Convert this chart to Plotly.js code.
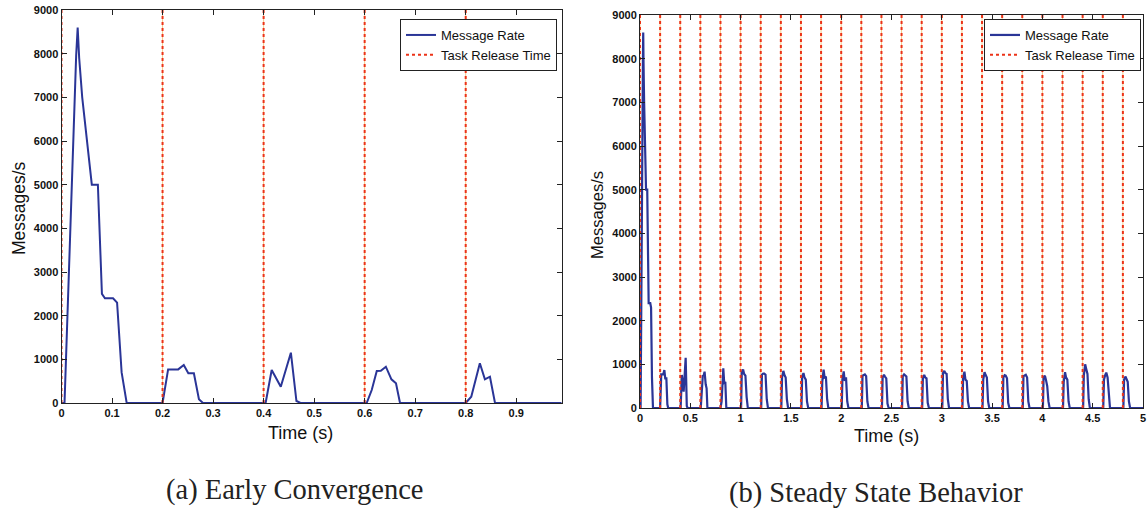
<!DOCTYPE html>
<html>
<head>
<meta charset="utf-8">
<script src="https://cdn.plot.ly/plotly-3.0.1.min.js"></script>
<style>
  html, body { margin: 0; padding: 0; background: #ffffff; }
  #chart { width: 1147px; height: 510px; }
</style>
</head>
<body>
<div id="chart"></div>
<script>
// ---------------- DATA ----------------
// (a) Early Convergence : message rate over the first second
const earlyTime = [0, 0.006, 0.029, 0.032, 0.035, 0.041, 0.060, 0.072, 0.080, 0.086, 0.102, 0.110, 0.119, 0.129,
  0.200, 0.211, 0.231, 0.242, 0.251, 0.262, 0.272, 0.280,
  0.404, 0.416, 0.434, 0.454, 0.465, 0.473,
  0.604, 0.614, 0.624, 0.632, 0.642, 0.653, 0.662, 0.670,
  0.800, 0.811, 0.828, 0.838, 0.848, 0.858, 0.990];
const earlyRate = [0, 0, 7950, 8600, 7900, 7000, 5000, 5000, 2500, 2400, 2400, 2300, 700, 0,
  0, 770, 770, 870, 680, 680, 85, 0,
  0, 756, 373, 1152, 46, 0,
  0, 298, 733, 740, 831, 543, 451, 0,
  0, 144, 909, 543, 602, 0, 0];

// (b) Steady State Behavior : message rate after the first second (the first second is earlyTime/earlyRate)
const steadyTime = [
  1.005, 1.012, 1.025, 1.035, 1.048, 1.060, 1.072,
  1.205, 1.212, 1.225, 1.235, 1.248, 1.260, 1.272,
  1.405, 1.412, 1.425, 1.435, 1.448, 1.460, 1.472,
  1.605, 1.612, 1.625, 1.635, 1.648, 1.660, 1.672,
  1.805, 1.812, 1.825, 1.835, 1.848, 1.860, 1.872,
  2.005, 2.012, 2.025, 2.035, 2.048, 2.060, 2.072,
  2.205, 2.212, 2.225, 2.235, 2.248, 2.260, 2.272,
  2.405, 2.412, 2.425, 2.435, 2.448, 2.460, 2.472,
  2.605, 2.612, 2.625, 2.635, 2.648, 2.660, 2.672,
  2.805, 2.812, 2.825, 2.835, 2.848, 2.860, 2.872,
  3.005, 3.012, 3.025, 3.035, 3.048, 3.060, 3.072,
  3.205, 3.212, 3.225, 3.235, 3.248, 3.260, 3.272,
  3.405, 3.412, 3.425, 3.435, 3.448, 3.460, 3.472,
  3.605, 3.612, 3.625, 3.635, 3.648, 3.660, 3.672,
  3.805, 3.812, 3.825, 3.835, 3.848, 3.860, 3.872,
  4.005, 4.012, 4.025, 4.035, 4.048, 4.060, 4.072,
  4.205, 4.212, 4.225, 4.235, 4.248, 4.260, 4.272,
  4.405, 4.412, 4.425, 4.435, 4.448, 4.460, 4.472,
  4.605, 4.612, 4.625, 4.635, 4.648, 4.660, 4.672,
  4.805, 4.812, 4.825, 4.835, 4.848, 4.860, 4.872,
  5.000];
const steadyRate = [
  0, 820, 880, 780, 740, 250, 0,
  0, 760, 790, 790, 760, 200, 0,
  0, 700, 850, 760, 700, 200, 0,
  0, 720, 800, 700, 650, 150, 0,
  0, 600, 880, 700, 720, 200, 0,
  0, 650, 840, 620, 700, 150, 0,
  0, 740, 770, 770, 730, 150, 0,
  0, 700, 760, 720, 680, 100, 0,
  0, 730, 770, 740, 720, 150, 0,
  0, 690, 760, 700, 680, 120, 0,
  0, 800, 850, 800, 780, 200, 0,
  0, 700, 830, 650, 620, 150, 0,
  0, 650, 820, 760, 700, 150, 0,
  0, 700, 750, 740, 680, 120, 0,
  0, 730, 760, 760, 700, 150, 0,
  0, 700, 740, 650, 500, 150, 0,
  0, 600, 820, 700, 650, 150, 0,
  0, 750, 1000, 900, 780, 200, 0,
  0, 650, 760, 810, 700, 200, 0,
  0, 650, 720, 680, 600, 150, 0,
  0];

const earlyRelease = [0, 0.2, 0.4, 0.6, 0.8];
const steadyRelease = [0, 0.2, 0.4, 0.6, 0.8, 1.0, 1.2, 1.4, 1.6, 1.8, 2.0, 2.2, 2.4, 2.6, 2.8,
  3.0, 3.2, 3.4, 3.6, 3.8, 4.0, 4.2, 4.4, 4.6, 4.8];
const rateTop = 9000;

const yTicks = [0, 1000, 2000, 3000, 4000, 5000, 6000, 7000, 8000, 9000];
const earlyXTicks = [0, 0.1, 0.2, 0.3, 0.4, 0.5, 0.6, 0.7, 0.8, 0.9];
const steadyXTicks = [0, 0.5, 1, 1.5, 2, 2.5, 3, 3.5, 4, 4.5, 5];

// ---------------- BUILD ----------------
function releaseLines(times) {
  const xs = [], ys = [];
  times.forEach(t => { xs.push(t, t, null); ys.push(0, rateTop, null); });
  return { xs, ys };
}
const relA = releaseLines(earlyRelease);
const relB = releaseLines(steadyRelease);

const W = 1147, H = 510;
const px = v => v / W, py = v => 1 - v / H;

const blue = '#2a3597';
const red = '#ec3318';
const glow = '#f6c98a';

const traces = [
  { x: relA.xs, y: relA.ys, type: 'scatter', mode: 'lines', showlegend: false, hoverinfo: 'skip',
    line: { color: glow, width: 1 }, xaxis: 'x', yaxis: 'y' },
  { x: relB.xs, y: relB.ys, type: 'scatter', mode: 'lines', showlegend: false, hoverinfo: 'skip',
    line: { color: glow, width: 1 }, xaxis: 'x2', yaxis: 'y2' },
  { x: earlyTime, y: earlyRate, type: 'scatter', mode: 'lines', name: 'Message Rate',
    line: { color: blue, width: 2 }, xaxis: 'x', yaxis: 'y', legend: 'legend' },
  { x: relA.xs, y: relA.ys, type: 'scatter', mode: 'lines', name: 'Task Release Time',
    line: { color: red, width: 2, dash: 'dot' }, xaxis: 'x', yaxis: 'y', legend: 'legend' },
  { x: earlyTime.concat(steadyTime), y: earlyRate.concat(steadyRate), type: 'scatter', mode: 'lines',
    name: 'Message Rate', line: { color: blue, width: 2.2 }, xaxis: 'x2', yaxis: 'y2', legend: 'legend2' },
  { x: relB.xs, y: relB.ys, type: 'scatter', mode: 'lines', name: 'Task Release Time',
    line: { color: red, width: 2, dash: 'dot' }, xaxis: 'x2', yaxis: 'y2', legend: 'legend2' }
];

const tickFont = { family: 'Liberation Sans, Arial, sans-serif', size: 11, color: '#111', weight: 'bold' };
const axisBase = {
  showline: true, linecolor: '#222', linewidth: 1, mirror: 'ticks',
  ticks: 'inside', ticklen: 5, tickcolor: '#222', tickwidth: 1,
  showgrid: false, zeroline: false, tickfont: tickFont, fixedrange: true
};

const legendBase = {
  bgcolor: '#ffffff', bordercolor: '#222', borderwidth: 1,
  font: { family: 'Liberation Sans, Arial, sans-serif', size: 13, color: '#111' },
  xanchor: 'right', yanchor: 'top', tracegroupgap: 0, itemwidth: 30
};

const titleFont = { family: 'Liberation Sans, Arial, sans-serif', size: 18, color: '#111' };
const captionFont = { family: 'Liberation Serif, Times New Roman, serif', size: 28.5, color: '#222' };

const layout = {
  width: W, height: H,
  margin: { l: 0, r: 0, t: 0, b: 0 },
  paper_bgcolor: '#ffffff', plot_bgcolor: '#ffffff',
  showlegend: true,
  xaxis: Object.assign({}, axisBase, { domain: [px(61.5), px(561.7)], range: [0, 0.99],
    tickvals: earlyXTicks, ticktext: earlyXTicks.map(String), anchor: 'y' }),
  yaxis: Object.assign({}, axisBase, { domain: [py(403), py(10)], range: [0, rateTop],
    tickvals: yTicks, ticktext: yTicks.map(String), anchor: 'x' }),
  xaxis2: Object.assign({}, axisBase, { domain: [px(640), px(1143)], range: [0, 5],
    tickvals: steadyXTicks, ticktext: steadyXTicks.map(String), anchor: 'y2' }),
  yaxis2: Object.assign({}, axisBase, { domain: [py(408), py(15)], range: [0, rateTop],
    tickvals: yTicks, ticktext: yTicks.map(String), anchor: 'x2' }),
  legend: Object.assign({}, legendBase, { x: px(557), y: py(19) }),
  legend2: Object.assign({}, legendBase, { x: px(1141), y: py(19) }),
  annotations: [
    { text: 'Messages/s', xref: 'paper', yref: 'paper', x: px(19), y: py(208), textangle: -90,
      showarrow: false, font: Object.assign({}, titleFont, { size: 17.5 }), xanchor: 'center', yanchor: 'middle' },
    { text: 'Messages/s', xref: 'paper', yref: 'paper', x: px(597), y: py(215), textangle: -90,
      showarrow: false, font: Object.assign({}, titleFont, { size: 16.5 }), xanchor: 'center', yanchor: 'middle' },
    { text: 'Time (s)', xref: 'paper', yref: 'paper', x: px(300), y: py(433),
      showarrow: false, font: titleFont, xanchor: 'center', yanchor: 'middle' },
    { text: 'Time (s)', xref: 'paper', yref: 'paper', x: px(886), y: py(436),
      showarrow: false, font: titleFont, xanchor: 'center', yanchor: 'middle' },
    { text: '(a) Early Convergence', xref: 'paper', yref: 'paper', x: px(294), y: py(490),
      showarrow: false, font: captionFont, xanchor: 'center', yanchor: 'middle' },
    { text: '(b) Steady State Behavior', xref: 'paper', yref: 'paper', x: px(876), y: py(493),
      showarrow: false, font: captionFont, xanchor: 'center', yanchor: 'middle' }
  ]
};

Plotly.newPlot('chart', traces, layout, { staticPlot: true, displayModeBar: false });
</script>
</body>
</html>
